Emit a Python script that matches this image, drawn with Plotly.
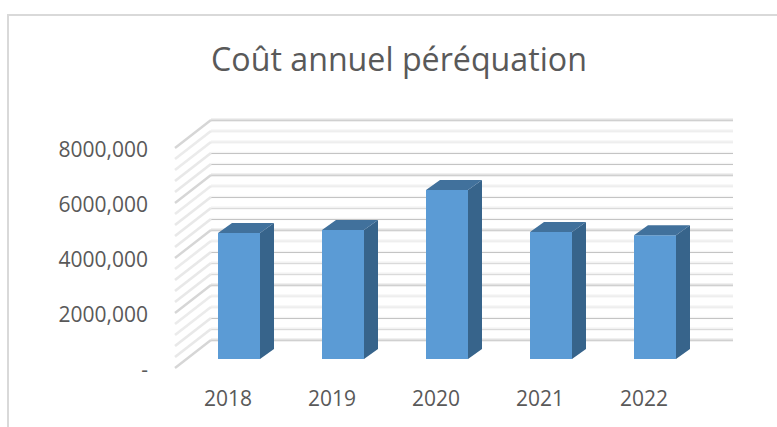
import plotly.graph_objects as go

# --- data ---
TITLE = "Coût annuel péréquation"
YEARS = ["2018", "2019", "2020", "2021", "2022"]
COSTS = [4580000, 4690000, 6150000, 4620000, 4500000]
Y_TICK_VALUES = [0, 2000000, 4000000, 6000000, 8000000]
Y_TICK_LABELS = ["-", "2000,000", "4000,000", "6000,000", "8000,000"]
MINOR_STEP = 400000
# how each grid line looks, bottom to top (the picture's lines alias unevenly)
GRID_LOOK = ["maj", "mid", "dark", "pale", "pale", "maj", "mid", "mid", "dark", "pale", "maj",
             "dark", "mid", "dark", "pale", "maj", "dark", "dark", "pale", "pale", "maj"]

# --- pixel geometry of the pseudo-3D projection ---
W, H = 777, 427
PX_PER_VALUE = 55 / 2000000
PX_PER_CAT = 104
BAR_X0, BAR_Y0 = 239, 359      # first bar centre, bar base line
BAR_W = 42
BAR_DX, BAR_DY = 14, 10        # bar depth
WALL_LEFT, WALL_RIGHT, WALL_Y0 = 211, 733, 340
FRONT_LEFT, FRONT_Y0 = 175, 368
LABEL_X0, LABEL_Y0 = 228, 369.5

TXT = "#595959"
FRONT, TOP, SIDE = "#5B9BD5", "#41719C", "#37648B"
FONT = "Open Sans"
LOOKS = {  # band colour, band width, core colour, core width
    "maj": ("#E2E2E2", 3, "#D0D0D0", 1),
    "mid": ("#F2F2F2", 3, "#DADADA", 1),
    "dark": ("#F5F5F5", 2.5, "#C4C4C4", 1),
    "pale": ("#F1F1F1", 3, "#EEEEEE", 1),
}
SIDE_LOOKS = {"maj": ("#D6D6D6", 2.4), "mid": ("#E8E8E8", 2.6), "dark": ("#E8E8E8", 2.6), "pale": ("#EBEBEB", 2.6)}


def cat_range(x0):
    return [-x0 / PX_PER_CAT, (W - x0) / PX_PER_CAT]


def val_range(y0):
    return [(y0 - H) / PX_PER_VALUE, y0 / PX_PER_VALUE]


def dx(px):
    return px / PX_PER_CAT


def dv(px):
    return px / PX_PER_VALUE


def to_cat(px):
    return (px - BAR_X0) / PX_PER_CAT


idx = list(range(len(YEARS)))
half = BAR_W / 2 / PX_PER_CAT
fig = go.Figure()


def wall_line(xs, ys, colour, width):
    fig.add_trace(go.Scatter(x=xs, y=ys, mode="lines", line=dict(color=colour, width=width),
                             hoverinfo="skip", showlegend=False))


# walls: grid lines on base subplot
back_shift = dv(BAR_Y0 - WALL_Y0)
front_shift = dv(BAR_Y0 - FRONT_Y0)
for k, look in enumerate(GRID_LOOK):
    v = k * MINOR_STEP
    band, band_w, core, core_w = LOOKS[look]
    wall_line([to_cat(WALL_LEFT), to_cat(WALL_RIGHT)], [v + back_shift] * 2, band, band_w)
    wall_line([to_cat(WALL_LEFT), to_cat(WALL_RIGHT)], [v + back_shift - dv(0.5)] * 2, core, core_w)
    s_col, s_w = SIDE_LOOKS[look]
    wall_line([to_cat(FRONT_LEFT), to_cat(WALL_LEFT)], [v + front_shift, v + back_shift], s_col, s_w)

# bars: front face
fig.add_trace(go.Bar(x=idx, y=COSTS, width=BAR_W / PX_PER_CAT, marker=dict(color=FRONT, line=dict(width=0)),
                     xaxis="x2", yaxis="y2", showlegend=False))

# bars: side and top faces derived from the same values
side_x, side_y, top_x, top_y = [], [], [], []
for i, v in zip(idx, COSTS):
    r = i + half
    side_x += [r, r + dx(BAR_DX), r + dx(BAR_DX), r, r, None]
    side_y += [0, dv(BAR_DY), v + dv(BAR_DY), v, 0, None]
    l = i - half
    top_x += [l, l + dx(BAR_DX), r + dx(BAR_DX), r, l, None]
    top_y += [v, v + dv(BAR_DY), v + dv(BAR_DY), v, v, None]
fig.add_trace(go.Scatter(x=side_x, y=side_y, mode="lines", fill="toself", fillcolor=SIDE,
                         line=dict(width=0, color=SIDE), xaxis="x2", yaxis="y2",
                         hoverinfo="skip", showlegend=False))
fig.add_trace(go.Scatter(x=top_x, y=top_y, mode="lines", fill="toself", fillcolor=TOP,
                         line=dict(width=0, color=TOP), xaxis="x2", yaxis="y2",
                         hoverinfo="skip", showlegend=False))

# carrier for the label axes
fig.add_trace(go.Scatter(x=idx, y=[0] * len(idx), mode="markers", marker=dict(opacity=0),
                         xaxis="x3", yaxis="y3", hoverinfo="skip", showlegend=False))

hidden = dict(visible=False, fixedrange=True)
fig.update_layout(
    width=W, height=H, margin=dict(l=0, r=0, t=0, b=0),
    paper_bgcolor="white", plot_bgcolor="white", showlegend=False,
    title=dict(text=TITLE, x=399 / W, xanchor="center", y=1 - 60 / H, yanchor="middle",
               font=dict(family=FONT, size=32.2, color=TXT)),
    xaxis=dict(range=cat_range(BAR_X0), **hidden),
    yaxis=dict(range=val_range(BAR_Y0), **hidden),
    xaxis2=dict(range=cat_range(BAR_X0), overlaying="x", **hidden),
    yaxis2=dict(range=val_range(BAR_Y0), overlaying="y", **hidden),
    xaxis3=dict(range=cat_range(LABEL_X0), overlaying="x", anchor="free", position=1 - 384 / H,
                tickmode="array", tickvals=idx, ticktext=YEARS, showgrid=False, zeroline=False,
                showline=False, ticks="", tickfont=dict(family=FONT, size=21, color=TXT), fixedrange=True),
    yaxis3=dict(range=val_range(LABEL_Y0), overlaying="y", anchor="free", position=148 / W, side="left",
                tickmode="array", tickvals=Y_TICK_VALUES, ticktext=Y_TICK_LABELS, showgrid=False,
                zeroline=False, showline=False, ticks="", tickfont=dict(family=FONT, size=21, color=TXT),
                fixedrange=True),
    shapes=[
        dict(type="line", xref="paper", yref="paper", x0=8 / W, x1=8 / W, y0=0, y1=1 - 15 / H,
             line=dict(color="#D9D9D9", width=2)),
        dict(type="line", xref="paper", yref="paper", x0=7 / W, x1=1, y0=1 - 15 / H, y1=1 - 15 / H,
             line=dict(color="#D9D9D9", width=2)),
    ],
)
fig.write_html("out.html", config=dict(displayModeBar=False),
               post_script="document.body.style.margin='0';")
